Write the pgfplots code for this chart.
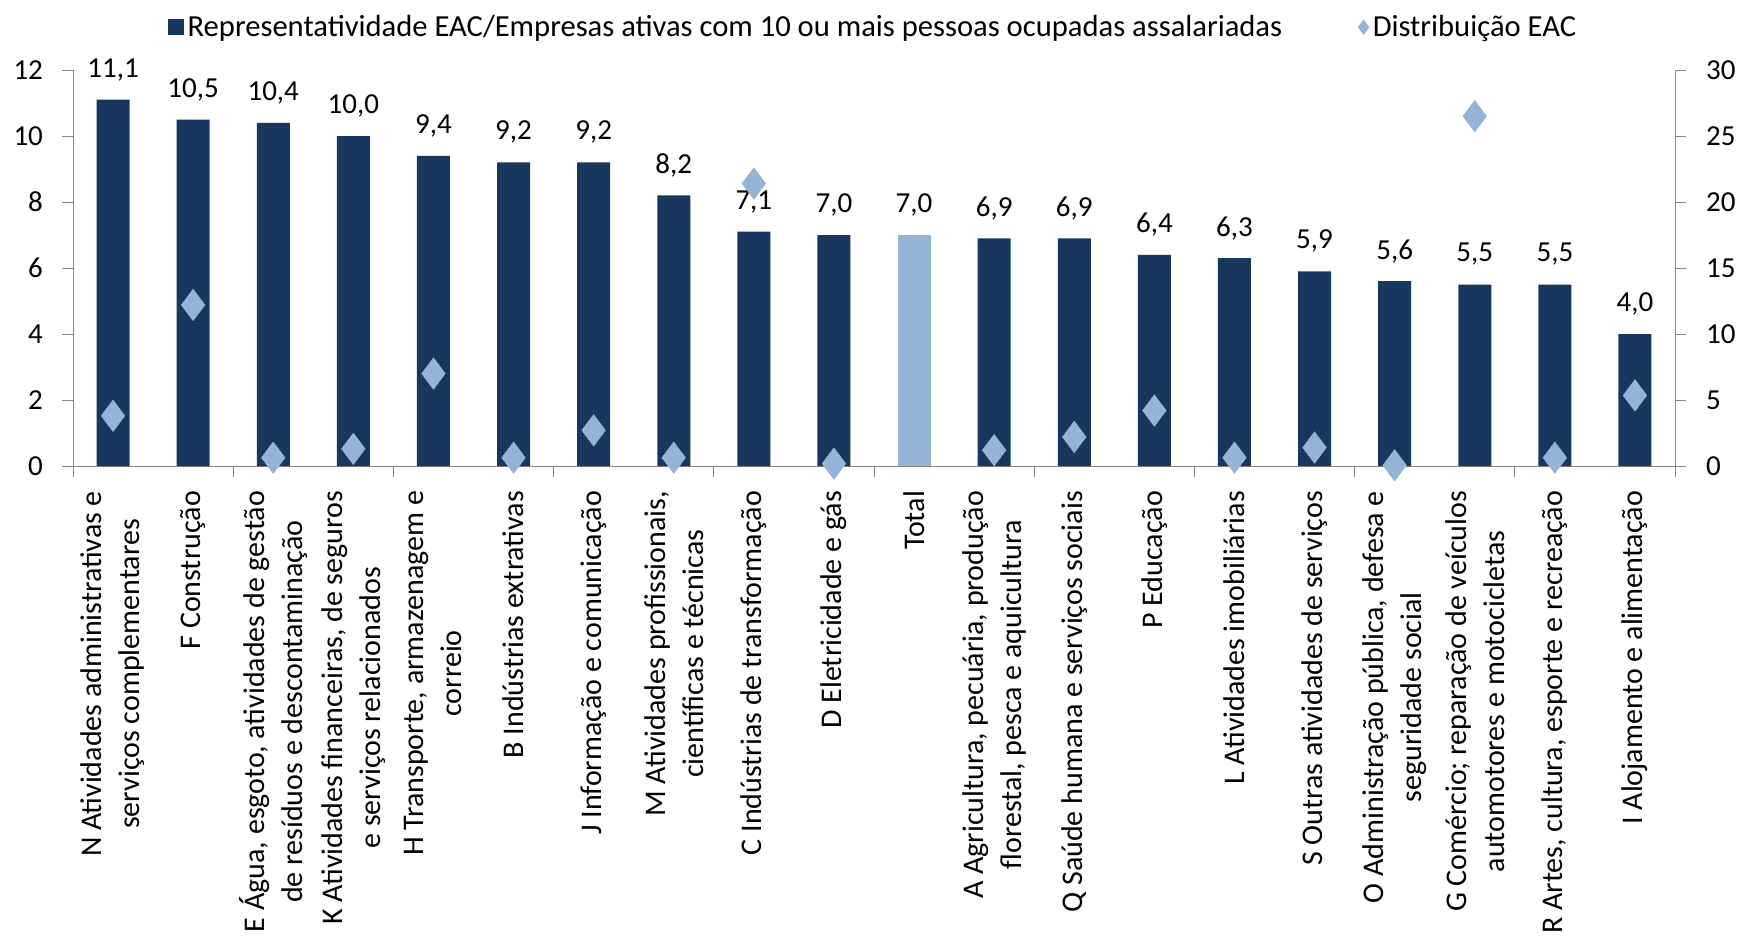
\documentclass[border=0pt]{standalone}
\usepackage{fontspec}
\setmainfont{Carlito}
\usepackage{pgfplots}
\pgfplotsset{compat=1.18}
\definecolor{navy}{RGB}{23,55,94}
\definecolor{lblue}{RGB}{149,179,215}
\definecolor{axgray}{RGB}{134,134,134}
\pgfplotsset{
  common/.style={
    at={(0,0)}, anchor=south west,
    scale only axis, width=801pt, height=198pt,
    xmin=-0.5, xmax=19.5,
    tick align=outside, major tick length=5.5pt,
    axis line style={draw=axgray}, tick style={draw=axgray, thin},
    /pgf/number format/assume math mode=true,
    ticklabel style={font=\fontsize{14.5}{16}\selectfont},
    clip=false,
  }
}
\begin{document}
\begin{tikzpicture}
\useasboundingbox (-36.5pt,-238pt) rectangle (832.5pt,233pt);
\begin{axis}[common,
  ymin=0, ymax=12,
  axis x line*=bottom, axis y line*=left,
  ytick={0,2,...,12},
  yticklabel style={xshift=-6pt},
  xtick={0,...,19},
  xtick style={draw=none},
  extra x ticks={-0.5,1.5,...,19.5},
  extra x tick labels={},
  extra x tick style={xtick style={draw=axgray}},
  xticklabels={
    {N Atividades administrativas e\\serviços complementares},
    {F Construção},
    {E Água, esgoto, atividades de gestão\\de resíduos e descontaminação},
    {K Atividades financeiras, de seguros\\e serviços relacionados},
    {H Transporte, armazenagem e\\correio},
    {B Indústrias extrativas},
    {J Informação e comunicação},
    {M Atividades profissionais,\\científicas e técnicas},
    {C Indústrias de transformação},
    {D Eletricidade e gás},
    {Total},
    {A Agricultura, pecuária, produção\\florestal, pesca e aquicultura},
    {Q Saúde humana e serviços sociais},
    {P Educação},
    {L Atividades imobiliárias},
    {S Outras atividades de serviços},
    {O Administração pública, defesa e\\seguridade social},
    {G Comércio; reparação de veículos\\automotores e motocicletas},
    {R Artes, cultura, esporte e recreação},
    {I Alojamento e alimentação}},
  xticklabel style={rotate=90, anchor=east, align=center, font=\fontsize{15}{19}\selectfont},
  xticklabel shift={3.5pt},
  nodes near coords,
  nodes near coords style={anchor=center, yshift=15pt, font=\fontsize{14.5}{16}\selectfont,
    /pgf/number format/.cd, fixed, fixed zerofill, precision=1, use comma, assume math mode=true},
]
\addplot[ybar, bar width=16.5pt, bar shift=0pt, fill=navy, draw=none] coordinates {
  (0,11.1) (1,10.5) (2,10.4) (3,10.0) (4,9.4) (5,9.2) (6,9.2) (7,8.2) (8,7.1) (9,7.0)
  (11,6.9) (12,6.9) (13,6.4) (14,6.3) (15,5.9) (16,5.6) (17,5.5) (18,5.5) (19,4.0)};
\addplot[ybar, bar width=16.5pt, bar shift=0pt, fill=lblue, draw=none] coordinates {(10,7.0)};
\end{axis}
\begin{axis}[common,
  ymin=0, ymax=30,
  axis y line*=right, axis x line=none,
  ytick={0,5,...,30},
  yticklabel style={xshift=6.5pt},
  legend columns=2,
  legend style={draw=none, fill=none, at={(0.5,1.108)}, anchor=center,
    font=\fontsize{15.3}{17}\selectfont, /tikz/every even column/.append style={column sep=36pt}},
]
\addlegendimage{legend image code/.code={\fill[navy] (0pt,-3.75pt) rectangle (7.5pt,3.75pt);}}
\addlegendentry{Representatividade EAC/Empresas ativas com 10 ou mais pessoas ocupadas assalariadas}
\addplot[only marks, mark=diamond*, mark size=7.75pt, color=lblue,
  legend image code/.code={\pgfsetplotmarksize{3.5pt}\pgfuseplotmark{diamond*}}] coordinates {
  (0,3.8) (1,12.2) (2,0.63) (3,1.3) (4,7.0) (5,0.63) (6,2.7) (7,0.63) (8,21.4) (9,0.18)
  (11,1.2) (12,2.2) (13,4.2) (14,0.63) (15,1.4) (16,0.05) (17,26.5) (18,0.63) (19,5.35)};
\addlegendentry{Distribuição EAC}
\end{axis}
\end{tikzpicture}
\end{document}
